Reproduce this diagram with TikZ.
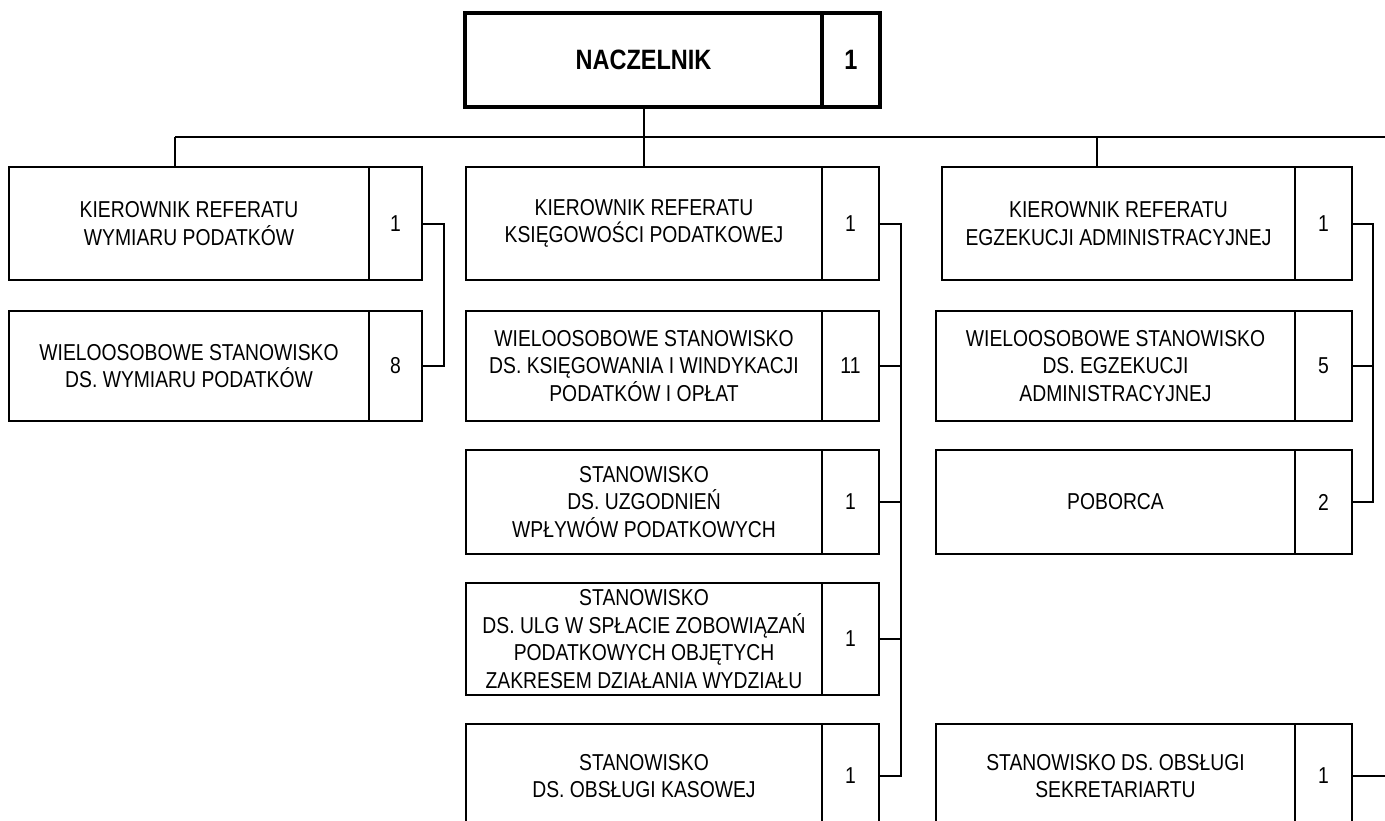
\documentclass[tikz,border=0pt]{standalone}
\usepackage{fontspec}
\setmainfont[FakeStretch=0.84]{Liberation Sans}

\tikzset{
	post/.style={shape=rectangle, draw, line width=2pt, inner sep=0, outer sep=0, align=center, anchor=north west, font=\fontsize{23pt}{27.7pt}\selectfont},
	head/.style={line width=4pt, font=\fontsize{28pt}{33pt}\selectfont\bfseries},
	wire/.style={line width=2pt}
}

\begin{document}
\begin{tikzpicture}[x=1pt, y=-1pt]
	\useasboundingbox (0,0) rectangle (1385,820);
	\clip (0,0) rectangle (1385,820);
	% Boxes:
	\node[post, head, minimum width=357pt, minimum height=94pt](nacz) at (465, 13){NACZELNIK};
	\node[post, head, minimum width=58pt, minimum height=94pt](nacz-n) at (nacz.north east){1};

	\node[post, minimum width=360pt, minimum height=113pt](kwp) at (9, 167){KIEROWNIK REFERATU\\WYMIARU PODATKÓW};
	\node[post, minimum width=53pt, minimum height=113pt](kwp-n) at (kwp.north east){1};
	\node[post, minimum width=360pt, minimum height=110pt](wsp) at (9, 311){WIELOOSOBOWE STANOWISKO\\DS. WYMIARU PODATKÓW};
	\node[post, minimum width=53pt, minimum height=110pt](wsp-n) at (wsp.north east){8};

	\node[post, minimum width=356pt, minimum height=113pt](kkp) at (466, 167){KIEROWNIK REFERATU\\KSIĘGOWOŚCI PODATKOWEJ};
	\node[post, minimum width=57pt, minimum height=113pt](kkp-n) at (kkp.north east){1};
	\node[post, minimum width=356pt, minimum height=110pt](wsk) at (466, 311){WIELOOSOBOWE STANOWISKO\\DS. KSIĘGOWANIA I WINDYKACJI\\PODATKÓW I OPŁAT};
	\node[post, minimum width=57pt, minimum height=110pt](wsk-n) at (wsk.north east){11};
	\node[post, minimum width=356pt, minimum height=104pt](uzg) at (466, 450){STANOWISKO\\DS. UZGODNIEŃ\\WPŁYWÓW PODATKOWYCH};
	\node[post, minimum width=57pt, minimum height=104pt](uzg-n) at (uzg.north east){1};
	\node[post, minimum width=356pt, minimum height=112pt](ulg) at (466, 583){STANOWISKO\\DS. ULG W SPŁACIE ZOBOWIĄZAŃ\\PODATKOWYCH OBJĘTYCH\\ZAKRESEM DZIAŁANIA WYDZIAŁU};
	\node[post, minimum width=57pt, minimum height=112pt](ulg-n) at (ulg.north east){1};
	\node[post, minimum width=356pt, minimum height=104pt](kas) at (466, 724){STANOWISKO\\DS. OBSŁUGI KASOWEJ};
	\node[post, minimum width=57pt, minimum height=104pt](kas-n) at (kas.north east){1};

	\node[post, minimum width=353pt, minimum height=113pt](kea) at (942, 167){KIEROWNIK REFERATU\\EGZEKUCJI ADMINISTRACYJNEJ};
	\node[post, minimum width=57pt, minimum height=113pt](kea-n) at (kea.north east){1};
	\node[post, minimum width=359pt, minimum height=110pt](wse) at (936, 311){WIELOOSOBOWE STANOWISKO\\DS. EGZEKUCJI\\ADMINISTRACYJNEJ};
	\node[post, minimum width=57pt, minimum height=110pt](wse-n) at (wse.north east){5};
	\node[post, minimum width=359pt, minimum height=104pt](pob) at (936, 450){POBORCA};
	\node[post, minimum width=57pt, minimum height=104pt](pob-n) at (pob.north east){2};
	\node[post, minimum width=359pt, minimum height=104pt](sek) at (936, 724){STANOWISKO DS. OBSŁUGI\\SEKRETARIARTU};
	\node[post, minimum width=57pt, minimum height=104pt](sek-n) at (sek.north east){1};

	% Wires:
	\coordinate (busL) at (175, 137);
	\coordinate (busE) at (1097, 137);
	\coordinate (busR) at (1400, 137);
	\draw[wire] (busL) -- (busR);
	\draw[wire] (nacz.south) -- (nacz.south |- kkp.north);
	\draw[wire] (busL) -- (busL |- kwp.north);
	\draw[wire] (busE) -- (busE |- kea.north);

	\draw[wire] (kwp-n.east) -- ++(22, 0) |- (wsp-n.east);

	\draw[wire] (kkp-n.east) -- ++(22, 0) |- (kas-n.east);
	\draw[wire] (wsk-n.east) -- ++(22, 0);
	\draw[wire] (uzg-n.east) -- ++(22, 0);
	\draw[wire] (ulg-n.east) -- ++(22, 0);

	\draw[wire] (kea-n.east) -- ++(21, 0) |- (pob-n.east);
	\draw[wire] (wse-n.east) -- ++(21, 0);
	\draw[wire] (sek-n.east) -- ++(60, 0);
\end{tikzpicture}
\end{document}
